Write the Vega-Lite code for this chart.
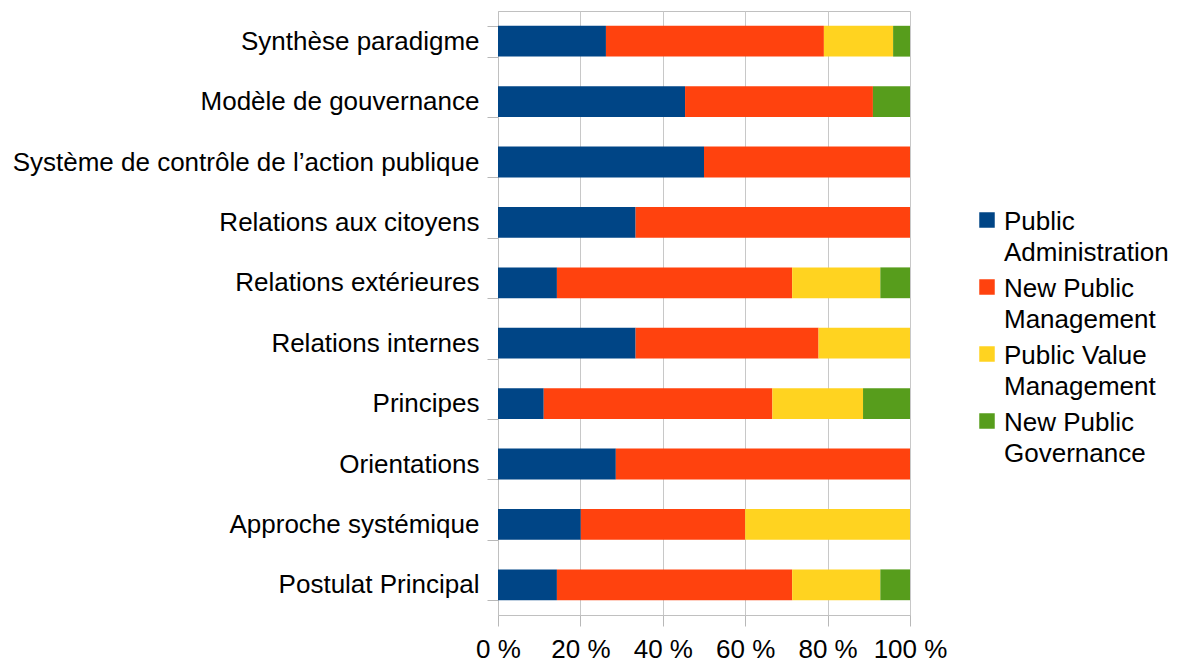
{
  "$schema": "https://vega.github.io/schema/vega-lite/v6.json",
  "width": 412,
  "height": 604,
  "autosize": {"type": "none"},
  "padding": {"left": 498, "top": 11, "right": 268, "bottom": 47},
  "background": "white",
  "config": {
    "font": "Liberation Sans",
    "view": {"stroke": "#c0c0c0", "strokeWidth": 1},
    "axis": {"labelFont": "Liberation Sans", "labelFontSize": 26, "labelColor": "#000000", "domainColor": "#c0c0c0", "tickColor": "#b8b8b8", "gridColor": "#c8c8c8", "title": null}
  },
  "data": {
    "values": [
      {"cat": "Synthèse paradigme", "type": "Public Administration", "v": 26.2},
      {"cat": "Synthèse paradigme", "type": "New Public Management", "v": 52.9},
      {"cat": "Synthèse paradigme", "type": "Public Value Management", "v": 16.8},
      {"cat": "Synthèse paradigme", "type": "New Public Governance", "v": 4.1},
      {"cat": "Modèle de gouvernance", "type": "Public Administration", "v": 45.4},
      {"cat": "Modèle de gouvernance", "type": "New Public Management", "v": 45.6},
      {"cat": "Modèle de gouvernance", "type": "New Public Governance", "v": 9.0},
      {"cat": "Système de contrôle de l’action publique", "type": "Public Administration", "v": 50},
      {"cat": "Système de contrôle de l’action publique", "type": "New Public Management", "v": 50},
      {"cat": "Relations aux citoyens", "type": "Public Administration", "v": 33.4},
      {"cat": "Relations aux citoyens", "type": "New Public Management", "v": 66.6},
      {"cat": "Relations extérieures", "type": "Public Administration", "v": 14.3},
      {"cat": "Relations extérieures", "type": "New Public Management", "v": 57.1},
      {"cat": "Relations extérieures", "type": "Public Value Management", "v": 21.4},
      {"cat": "Relations extérieures", "type": "New Public Governance", "v": 7.2},
      {"cat": "Relations internes", "type": "Public Administration", "v": 33.4},
      {"cat": "Relations internes", "type": "New Public Management", "v": 44.4},
      {"cat": "Relations internes", "type": "Public Value Management", "v": 22.2},
      {"cat": "Principes", "type": "Public Administration", "v": 11.1},
      {"cat": "Principes", "type": "New Public Management", "v": 55.5},
      {"cat": "Principes", "type": "Public Value Management", "v": 22.0},
      {"cat": "Principes", "type": "New Public Governance", "v": 11.4},
      {"cat": "Orientations", "type": "Public Administration", "v": 28.6},
      {"cat": "Orientations", "type": "New Public Management", "v": 71.4},
      {"cat": "Approche systémique", "type": "Public Administration", "v": 20.1},
      {"cat": "Approche systémique", "type": "New Public Management", "v": 39.9},
      {"cat": "Approche systémique", "type": "Public Value Management", "v": 40.0},
      {"cat": "Postulat Principal", "type": "Public Administration", "v": 14.3},
      {"cat": "Postulat Principal", "type": "New Public Management", "v": 57.1},
      {"cat": "Postulat Principal", "type": "Public Value Management", "v": 21.4},
      {"cat": "Postulat Principal", "type": "New Public Governance", "v": 7.2}
    ]
  },
  "transform": [
    {"calculate": "indexof(['Public Administration', 'New Public Management', 'Public Value Management', 'New Public Governance'], datum.type)", "as": "typeOrder"}
  ],
  "mark": {"type": "bar"},
  "encoding": {
    "y": {
      "field": "cat",
      "type": "nominal",
      "sort": ["Synthèse paradigme", "Modèle de gouvernance", "Système de contrôle de l’action publique", "Relations aux citoyens", "Relations extérieures", "Relations internes", "Principes", "Orientations", "Approche systémique", "Postulat Principal"],
      "scale": {"paddingInner": 0.49, "paddingOuter": 0.245},
      "axis": {"tickBand": "extent", "tickSize": 11, "labelPadding": 8, "labelLimit": 600, "domain": true, "grid": false}
    },
    "x": {
      "field": "v",
      "type": "quantitative",
      "stack": "normalize",
      "scale": {"domain": [0, 1], "nice": false},
      "axis": {"values": [0, 0.2, 0.4, 0.6, 0.8, 1], "labelExpr": "format(datum.value * 100, 'd') + ' %'", "tickSize": 11, "labelPadding": 10, "grid": true, "labelFlush": false}
    },
    "order": {"field": "typeOrder", "type": "quantitative", "sort": "ascending"},
    "color": {
      "field": "type",
      "type": "nominal",
      "sort": ["Public Administration", "New Public Management", "Public Value Management", "New Public Governance"],
      "scale": {"domain": ["Public Administration", "New Public Management", "Public Value Management", "New Public Governance"], "range": ["#004586", "#ff420e", "#ffd320", "#579d1c"]},
      "legend": {
        "title": null,
        "orient": "none",
        "legendX": 476,
        "legendY": 196,
        "symbolType": "square",
        "symbolSize": 240,
        "symbolStrokeWidth": 0,
        "labelFont": "Liberation Sans",
        "labelFontSize": 26,
        "labelColor": "#000000",
        "labelLineHeight": 30,
        "labelOffset": 4,
        "labelBaseline": "top",
        "labelLimit": 300,
        "rowPadding": 8,
        "padding": 0,
        "labelExpr": "datum.label == 'Public Administration' ? ['Public','Administration'] : datum.label == 'New Public Management' ? ['New Public','Management'] : datum.label == 'Public Value Management' ? ['Public Value','Management'] : ['New Public','Governance']",
        "encode": {"labels": {"update": {"dy": {"value": -11}, "lineHeight": {"value": 31}}}}
      }
    }
  }
}
